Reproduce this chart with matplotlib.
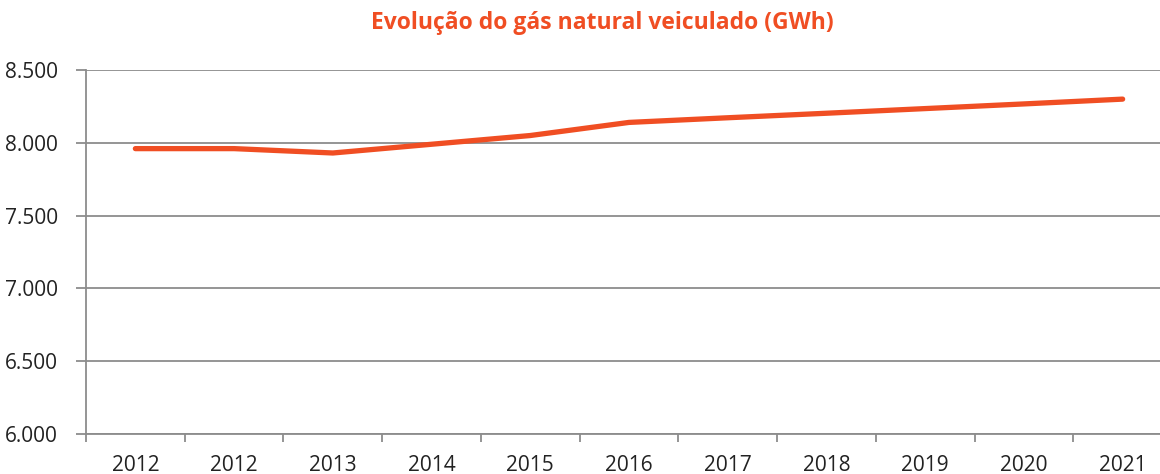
import numpy as np
import matplotlib.pyplot as plt
from matplotlib.ticker import FixedLocator, FuncFormatter, NullFormatter

# Dados
anos = ['2012', '2012', '2013', '2014', '2015', '2016', '2017', '2018', '2019', '2020', '2021']
gwh = [7960, 7960, 7930, 7990, 8050, 8140, 8172, 8203, 8235, 8267, 8300]

laranja = '#F04E23'
cinza = '#8C8C8C'

plt.rcParams['font.family'] = ['Open Sans', 'DejaVu Sans']

fig = plt.figure(figsize=(11.6, 4.74), dpi=100)
ax = fig.add_axes([86 / 1160, 40 / 474, 1086 / 1160, 364 / 474])

x = np.arange(len(anos))
ax.plot(x, gwh, color=laranja, lw=3.8, solid_capstyle='round')

ax.set_xlim(-0.5, len(anos) - 0.5)
ax.set_ylim(6000, 8500)
ax.set_yticks(np.arange(6000, 8501, 500))
ax.yaxis.set_major_formatter(FuncFormatter(lambda v, p: f'{int(v):,}'.replace(',', '.')))
ax.grid(axis='y', color=cinza, lw=1.3)
ax.set_axisbelow(True)

# ticks das categorias nos limites, rótulos no centro
ax.set_xticks(x)
ax.set_xticklabels(anos)
ax.tick_params(axis='x', which='major', length=0, pad=15, labelsize=15, labelcolor='#222222')
ax.xaxis.set_minor_locator(FixedLocator(np.arange(-0.5, len(anos), 1)))
ax.xaxis.set_minor_formatter(NullFormatter())
ax.tick_params(axis='x', which='minor', length=6, width=1.3, color=cinza)
ax.tick_params(axis='y', length=7, width=1.3, color=cinza, pad=13, labelsize=15, labelcolor='#222222')

for s in ['top', 'right']:
    ax.spines[s].set_visible(False)
for s in ['left', 'bottom']:
    ax.spines[s].set_color(cinza)
    ax.spines[s].set_linewidth(1.3)

fig.text(0.519, 0.952, 'Evolução do gás natural veiculado (GWh)', ha='center', va='center',
         color=laranja, fontsize=16.5, fontweight='bold')

fig.savefig('out.png', dpi=100)
